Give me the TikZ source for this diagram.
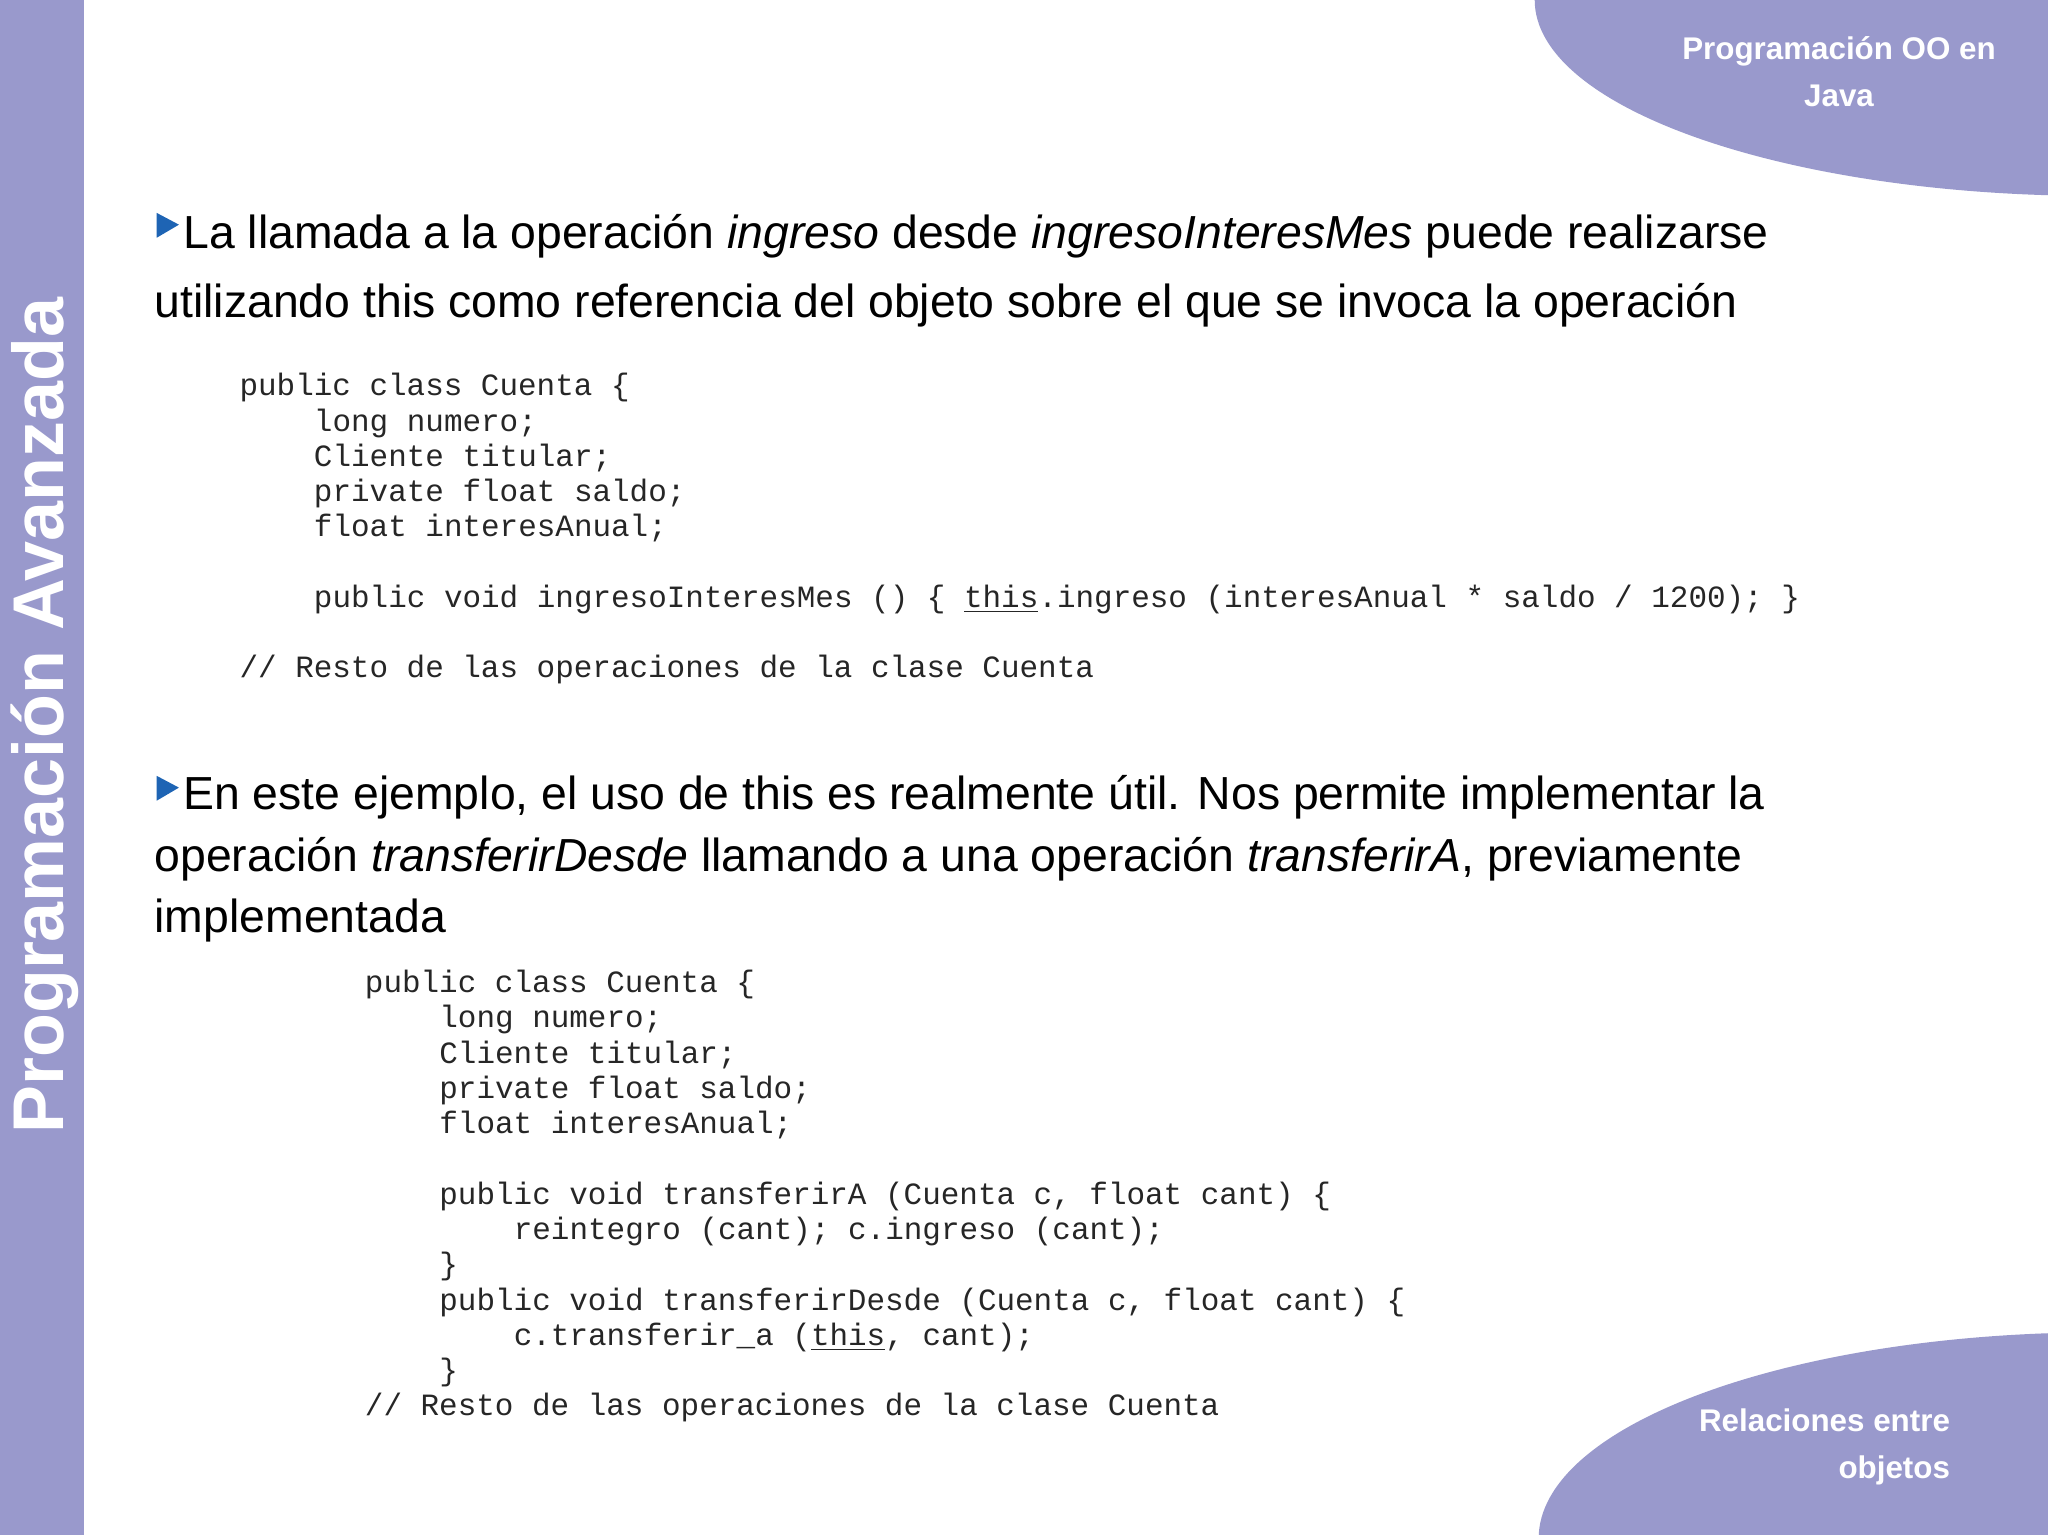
\documentclass[tikz,border=0pt]{standalone}
\usepackage{fontspec}
\setmainfont{Liberation Sans}
\setmonofont{Liberation Mono}
\begin{document}
\begin{tikzpicture}[x=0.5pt,y=-0.5pt,
 code/.style={anchor=base west,inner sep=0pt,font=\fontsize{11.85}{13}\selectfont\ttfamily,text=black!85},
 body/.style={anchor=base west,inner sep=0pt,font=\fontsize{17.75}{20}\selectfont},
 bul/.style={fill={rgb,255:red,30;green,100;blue,180}}]
\useasboundingbox (0,0) rectangle (1568,1175);
\fill[white] (0,0) rectangle (1568,1175);
\fill[fill={rgb,255:red,153;green,153;blue,204}] (0,0) rectangle (64,1175);
\begin{scope}
\clip (0,0) rectangle (1568,1175);
\fill[fill={rgb,255:red,153;green,153;blue,204}] (1605,0) ellipse [x radius=430, y radius=150];
\fill[fill={rgb,255:red,153;green,153;blue,204}] (1610,1178) ellipse [x radius=432, y radius=158];
\end{scope}
\node[rotate=90,text=white,font=\fontsize{27.5}{30}\selectfont\bfseries,inner sep=0pt] (side) at (34,548) {Programación Avanzada};
\node[text=white,font=\fontsize{12}{18}\selectfont\bfseries,align=center] (top) at (1408,55) {Programación OO en\\Java};
\node[text=white,font=\fontsize{12}{18}\selectfont\bfseries,align=right,anchor=east] (bot) at (1500,1108) {Relaciones entre\\objetos};
\fill[bul] (120,163) -- (137,172) -- (120,182) -- cycle;
\fill[bul] (120,594) -- (137,603) -- (120,613) -- cycle;
\node[body] (p1) at (140,190) {La llamada a la operación \textit{ingreso} desde \textit{ingresoInteresMes} puede realizarse};
\node[body] (p2) at (118,243) {utilizando this como referencia del objeto sobre el que se invoca la operación};
\node[code] (a1) at (183,303) {public class Cuenta \{};
\node[code] (a2) at (240,330) {long numero;};
\node[code] (a3) at (240,357) {Cliente titular;};
\node[code] (a4) at (240,384) {private float saldo;};
\node[code] (a5) at (240,411) {float interesAnual;};
\node[code] (a6) at (240,465) {public void ingresoInteresMes () \{ \underline{this}.ingreso (interesAnual * saldo / 1200); \}};
\node[code] (a7) at (183,519) {// Resto de las operaciones de la clase Cuenta};
\node[body] (q1) at (140,620) {En este ejemplo, el uso de this es realmente útil. Nos permite implementar la};
\node[body] (q2) at (118,667) {operación \textit{transferirDesde} llamando a una operación \textit{transferirA}, previamente};
\node[body] (q3) at (118,714) {implementada};
\node[code] (b1) at (279,760) {public class Cuenta \{};
\node[code] (b2) at (336,787) {long numero;};
\node[code] (b3) at (336,814) {Cliente titular;};
\node[code] (b4) at (336,841) {private float saldo;};
\node[code] (b5) at (336,868) {float interesAnual;};
\node[code] (b6) at (336,922) {public void transferirA (Cuenta c, float cant) \{};
\node[code] (b7) at (393,949) {reintegro (cant); c.ingreso (cant);};
\node[code] (b8) at (336,976) {\}};
\node[code] (b9) at (336,1003) {public void transferirDesde (Cuenta c, float cant) \{};
\node[code] (b10) at (393,1030) {c.transferir\_a (\underline{this}, cant);};
\node[code] (b11) at (336,1057) {\}};
\node[code] (b12) at (279,1084) {// Resto de las operaciones de la clase Cuenta};
\end{tikzpicture}
\end{document}
